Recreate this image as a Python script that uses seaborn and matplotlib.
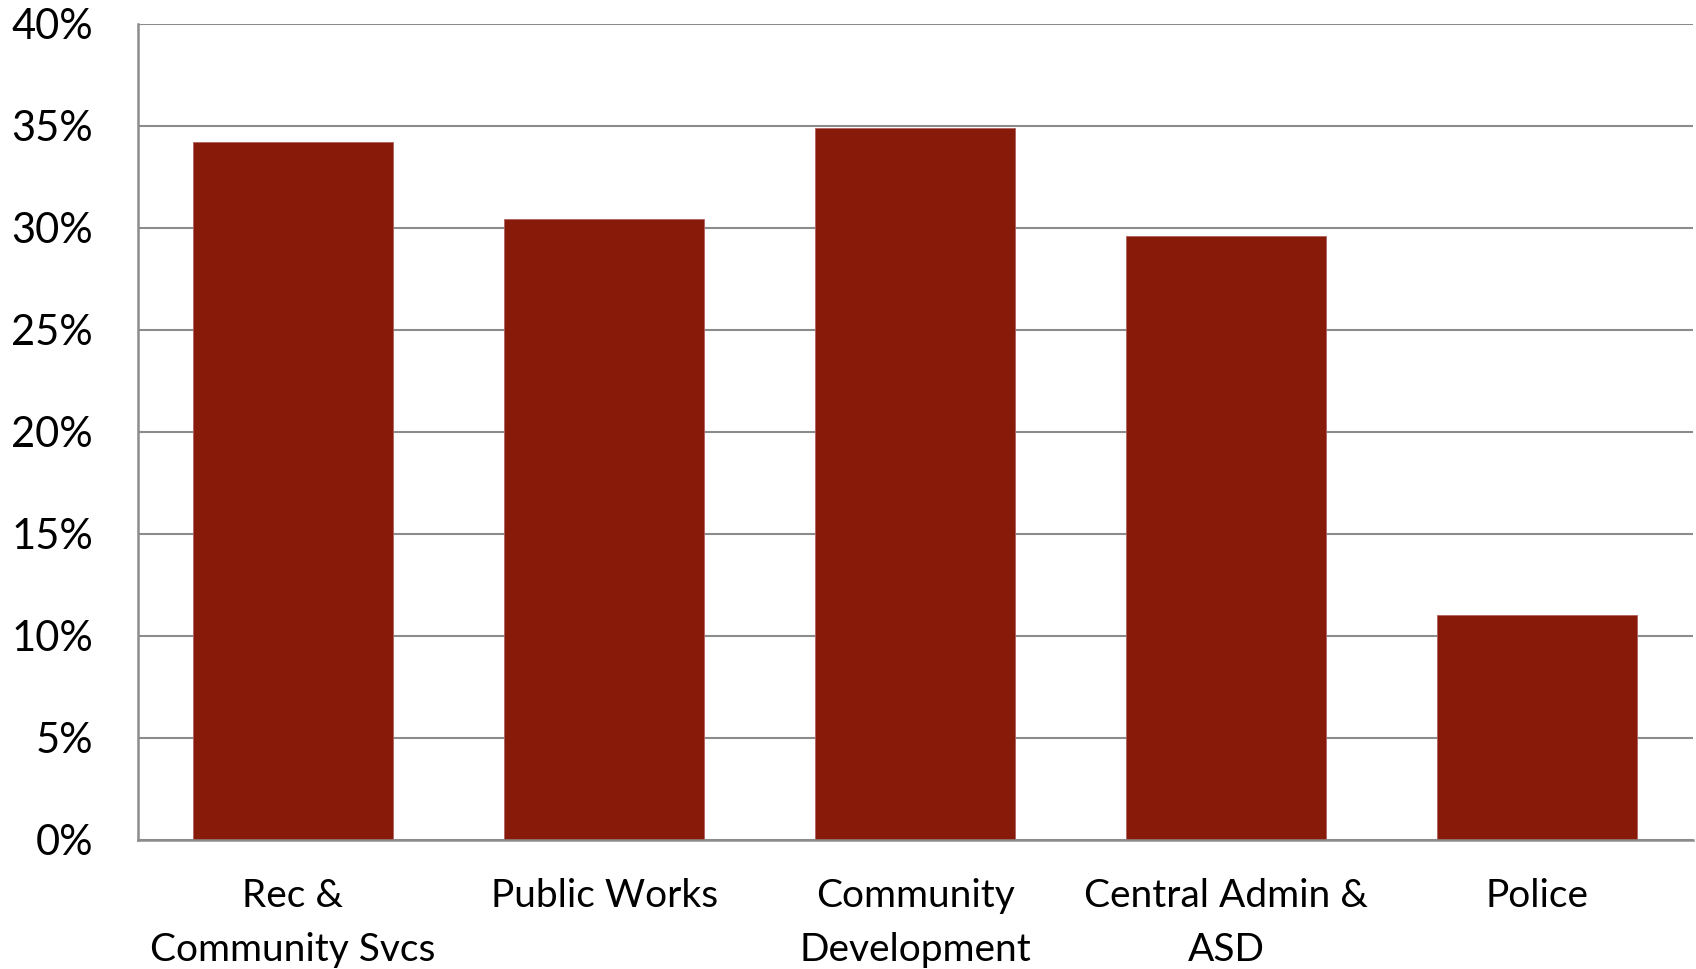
import matplotlib
matplotlib.use("Agg")
import matplotlib.pyplot as plt
import seaborn as sns
import pandas as pd
from matplotlib.ticker import PercentFormatter, MultipleLocator

categories = ["Rec &\nCommunity Svcs", "Public Works", "Community\nDevelopment",
              "Central Admin &\nASD", "Police"]
values = [34.2, 30.4, 34.9, 29.6, 11.0]

sns.set_theme(style="white")
plt.rcParams['font.family'] = ['Lato', 'DejaVu Sans']

df = pd.DataFrame({"cat": categories, "val": values})

fig = plt.figure(figsize=(16.96, 9.69), dpi=100)
ax = fig.add_axes([0.0811, 0.1336, 0.9169, 0.8421])

sns.barplot(data=df, x="cat", y="val", color="#881A0A", saturation=1,
            width=0.643, ax=ax, zorder=3, edgecolor="#B06060", linewidth=0.6)

ax.set_ylim(0, 40)
ax.yaxis.set_major_locator(MultipleLocator(5))
ax.yaxis.set_major_formatter(PercentFormatter(decimals=0))
ax.yaxis.grid(True, color="#8C8C8C", linewidth=1.5, zorder=0)
ax.set_axisbelow(True)
ax.set_xlabel("")
ax.set_ylabel("")
for s in ["top", "right"]:
    ax.spines[s].set_visible(False)
for s in ["left", "bottom"]:
    ax.spines[s].set_color("#8C8C8C")
    ax.spines[s].set_linewidth(1.8)
    ax.spines[s].set_zorder(4)
ax.tick_params(axis="y", length=0, pad=32, labelsize=30, colors="black")
ax.tick_params(axis="x", length=0, pad=28, labelsize=28, colors="black")
for lbl in ax.get_xticklabels():
    lbl.set_linespacing(1.6)

fig.savefig("out.png", dpi=100)
